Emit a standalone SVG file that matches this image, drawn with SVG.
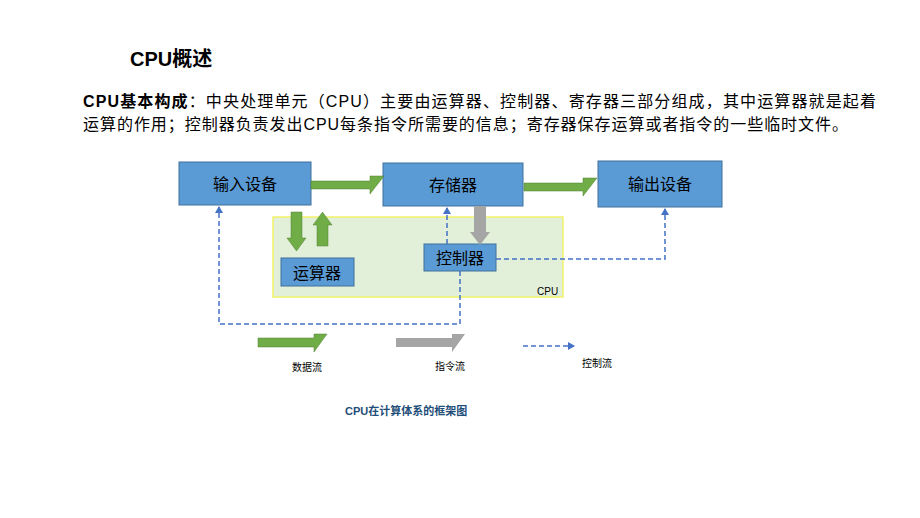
<svg xmlns="http://www.w3.org/2000/svg" width="920" height="518" viewBox="0 0 920 518">
<style>
text{font-family:"Liberation Sans","Noto Sans CJK SC",sans-serif;fill:#000}
.box{fill:#5b9bd5;stroke:#41719c;stroke-width:1}
.bl{font-size:16px;text-anchor:middle}
.ctl{fill:none;stroke:#4472c4;stroke-width:1.5;stroke-dasharray:5 3}
.g{fill:#70ad47;stroke:#507e32;stroke-width:0.5}
.gr{fill:#a5a5a5}
.sm{font-size:10px}
</style>
<defs>
<marker id="ah" markerWidth="8" markerHeight="8" refX="6" refY="4" orient="auto" markerUnits="userSpaceOnUse"><path d="M0,0 L7,4 L0,8 z" fill="#4472c4"/></marker>
</defs>
<rect width="920" height="518" fill="#fff"/>
<text x="130" y="66" font-size="20" font-weight="bold">CPU概述</text>
<text x="83" y="107" font-size="16" textLength="793" lengthAdjust="spacing"><tspan font-weight="bold">CPU基本构成</tspan>：中央处理单元（CPU）主要由运算器、控制器、寄存器三部分组成，其中运算器就是起着</text>
<text x="83" y="130" font-size="16" textLength="765" lengthAdjust="spacing">运算的作用；控制器负责发出CPU每条指令所需要的信息；寄存器保存运算或者指令的一些临时文件。</text>
<g id="cpu"><rect x="273" y="217" width="290" height="80" fill="#e2efd9" stroke="#f2f26a" stroke-width="1.5"/><text x="537" y="295" class="sm">CPU</text></g>
<g id="input"><rect class="box" x="179" y="162" width="132" height="43"/><text class="bl" x="245" y="190">输入设备</text></g>
<g id="memory"><rect class="box" x="383" y="163" width="140" height="43"/><text class="bl" x="453" y="191">存储器</text></g>
<g id="output"><rect class="box" x="598" y="161" width="124" height="46"/><text class="bl" x="660" y="190">输出设备</text></g>
<g id="alu"><rect class="box" x="281" y="258" width="73" height="28"/><text class="bl" x="317" y="279">运算器</text></g>
<g id="ctrl"><rect class="box" x="424" y="244" width="72" height="27"/><text class="bl" x="460" y="264">控制器</text></g>
<g id="connectors">
<path class="g" d="M311,181 H370 V176 H384 L370,194 V189 H311 Z"/>
<path class="g" d="M524,183 H583 V178 H597 L583,196 V191 H524 Z"/>
<path class="g" d="M291,212 H302 V238 H306 L296.5,251 L287,238 H291 Z"/>
<path class="g" d="M317,246 H328 V225 H332 L322.5,212 L313,225 H317 Z"/>
<path class="gr" d="M474,206 H486 V232 H490 L480,245 L470,232 H474 Z"/>
<path class="ctl" d="M447,244 V208" marker-end="url(#ah)"/>
<path class="ctl" d="M496,259 H665 V209" marker-end="url(#ah)"/>
<path class="ctl" d="M460,271 V324 H219 V207" marker-end="url(#ah)"/>
</g>
<g id="legend">
<path class="g" d="M258,338 H314 V334 H327 L314,352 V347 H258 Z"/>
<path class="gr" d="M396,338 H452 V334 H465 L452,352 V347 H396 Z"/>
<path class="ctl" d="M523,346 H574" marker-end="url(#ah)"/>
<text class="sm" x="292" y="371">数据流</text>
<text class="sm" x="435" y="370">指令流</text>
<text class="sm" x="582" y="367">控制流</text>
</g>
<text x="345" y="415" font-size="11" font-weight="bold" style="fill:#1f4e79">CPU在计算体系的框架图</text>
</svg>
